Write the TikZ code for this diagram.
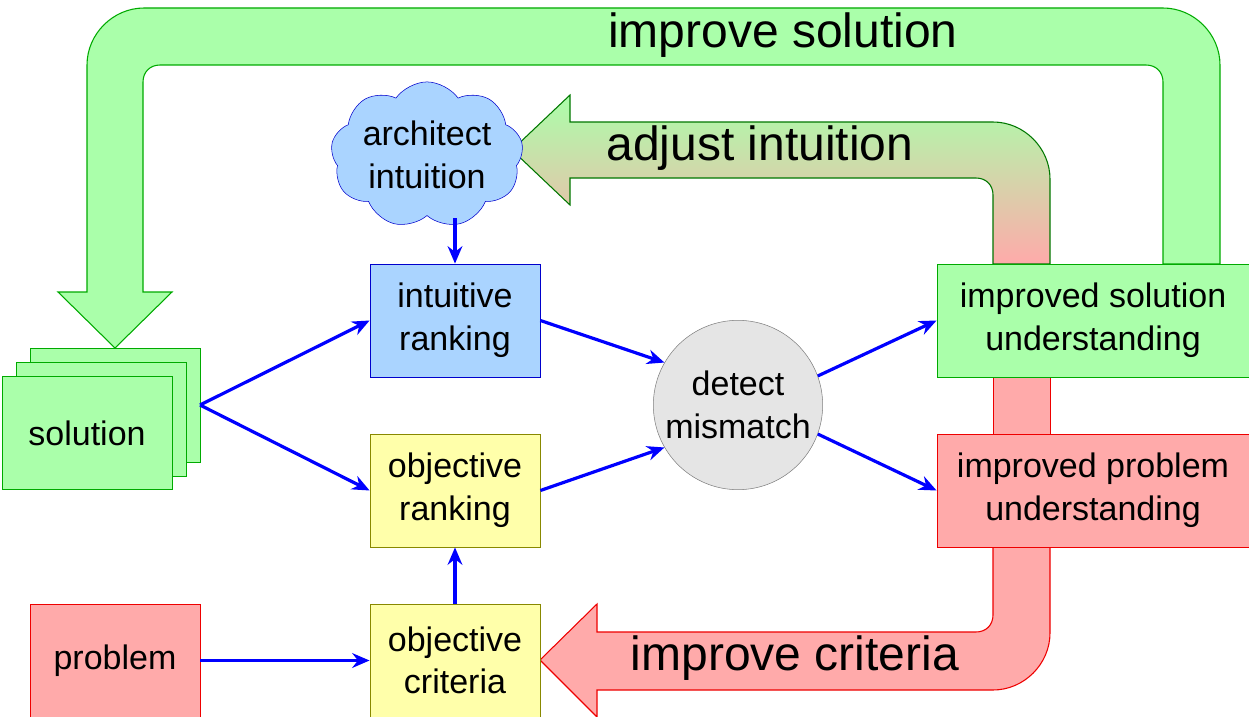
\documentclass[tikz,border=0pt]{standalone}
\usepackage{fontspec}
\setmainfont{Liberation Sans}
\usetikzlibrary{shapes.symbols,arrows.meta}
\definecolor{gfill}{HTML}{AAFFAA}
\definecolor{gline}{HTML}{00AA00}
\definecolor{rfill}{HTML}{FFAAAA}
\definecolor{rline}{HTML}{EE0000}
\definecolor{bfill}{HTML}{AAD4FF}
\definecolor{bline}{HTML}{0000CC}
\definecolor{yfill}{HTML}{FFFFAA}
\definecolor{yline}{HTML}{888800}
\begin{document}
\begin{tikzpicture}[x=0.75pt,y=-0.75pt,
  box/.style={draw, line width=0.6pt, minimum width=127.5pt, minimum height=84.75pt, align=center, inner sep=0pt, font=\fontsize{25.5}{32}\selectfont},
  wbox/.style={box, minimum width=234pt},
  con/.style={draw=blue, line width=2.4pt, -{Stealth[length=13pt,width=11pt]}},
  big/.style={font=\fontsize{36}{40}\selectfont}]
\useasboundingbox (0,0) rectangle (1249,717);
% big arrows
\fill[rfill] (993,250) rectangle (1050,604);
\draw[rline,line width=0.6pt] (993,377) -- (993,434) (1050,377) -- (1050,434);
\draw[gline,fill=gfill,line width=0.8pt] (1220,264) -- (1220,65) .. controls (1220,34) and (1194,8) .. (1163,8) -- (144,8) .. controls (113,8) and (87,34) .. (87,65) -- (87,292) -- (58,292) -- (115,348) -- (172,292) -- (143,292) -- (143,82) .. controls (143,72) and (150,65) .. (160,65) -- (1146,65) .. controls (1156,65) and (1163,72) .. (1163,82) -- (1163,264) -- cycle;
\draw[gline!70!black,top color=gfill,bottom color=rfill,middle color=gfill!50!rfill,line width=0.8pt] (1050,264) -- (1050,179) .. controls (1050,148) and (1024,122) .. (993,122) -- (570,122) -- (570,95) -- (512,150) -- (570,205) -- (570,178) -- (976,178) .. controls (986,178) and (993,185) .. (993,195) -- (993,264) -- cycle;
\draw[rline,fill=rfill,line width=0.8pt] (1050,547) -- (1050,633) .. controls (1050,664) and (1024,690) .. (993,690) -- (597,690) -- (597,717) -- (540,660) -- (597,604) -- (597,632) -- (976,632) .. controls (986,632) and (993,625) .. (993,615) -- (993,547) -- cycle;
\node[big] (t1) at (783,35) {improve solution};
\node[big] (t2) at (760,148) {adjust intuition};
\node[big] (t3) at (795,658) {improve criteria};
% solution stack
\draw[gline,fill=gfill,line width=0.6pt] (30,348) rectangle (200,462);
\draw[gline,fill=gfill,line width=0.6pt] (16,362) rectangle (186,476);
\node[box,draw=gline,fill=gfill] (sol) at (87,433) {solution};
\coordinate (solr) at (200,405);
\node[box,draw=bline,fill=bfill] (ir) at (455,320.5) {intuitive\\ranking};
\node[box,draw=yline,fill=yfill] (or) at (455,490.5) {objective\\ranking};
\node[box,draw=yline,fill=yfill] (oc) at (455,660.5) {objective\\criteria};
\node[box,draw=rline,fill=rfill] (pr) at (115,660.5) {problem};
\node[circle,draw=gray,fill=gray!20,minimum size=127pt,inner sep=0pt,align=center,font=\fontsize{25.5}{32}\selectfont] (dm) at (738,405) {detect\\mismatch};
\node[wbox,draw=gline,fill=gfill] (isu) at (1093,320.5) {improved solution\\understanding};
\node[wbox,draw=rline,fill=rfill] (ipu) at (1093,490.5) {improved problem\\understanding};
\node[cloud,cloud puffs=9,cloud puff arc=110,aspect=1.5,draw=bline,fill=bfill,minimum width=136pt,minimum height=96pt,inner sep=0pt,align=center,font=\fontsize{25.5}{32}\selectfont] (ai) at (427,155) {architect\\intuition};
% connectors
\draw[con] (455,218) -- (ir.north);
\draw[con] (solr) -- (ir.west);
\draw[con] (solr) -- (or.west);
\draw[con] (ir.east) -- (dm.150);
\draw[con] (or.east) -- (dm.210);
\draw[con] (dm.20) -- (isu.west);
\draw[con] (dm.-20) -- (ipu.west);
\draw[con] (oc.north) -- (or.south);
\draw[con] (pr.east) -- (oc.west);
\end{tikzpicture}
\end{document}
